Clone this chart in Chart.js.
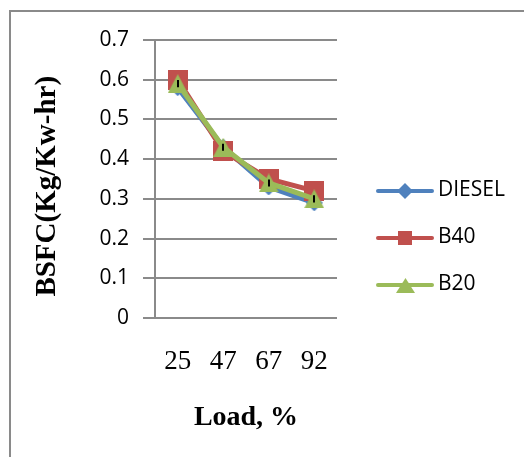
<!DOCTYPE html>
<html>
<head>
<meta charset="utf-8">
<script src="https://cdn.jsdelivr.net/npm/chart.js@4.4.1/dist/chart.umd.min.js"></script>
<style>
  html, body { margin: 0; padding: 0; background: #fff; }
  #wrap { position: relative; width: 524px; height: 457px; overflow: hidden; }
  canvas { display: block; }
</style>
</head>
<body>
<div id="wrap"><canvas id="c" width="524" height="457"></canvas></div>
<script>
// Load levels (%) on the category axis
const loads = ['25', '47', '67', '92'];
// Brake specific fuel consumption, Kg/Kw-hr
const diesel = [0.58, 0.43, 0.33, 0.29];
const b40 = [0.60, 0.42, 0.35, 0.32];
const b20 = [0.59, 0.43, 0.34, 0.30];
// Half-height of the small error bars on the B20 series
const b20Err = [0.009, 0.009, 0.009, 0.009];
// Value-axis tick labels
const yTickLabels = ['0', '0.1', '0.2', '0.3', '0.4', '0.5', '0.6', '0.7'];

const BLUE = '#4f81bd', RED = '#c0504d', GREEN = '#9bbb59';
const AXIS = '#8a8a8a';

// Solid marker shapes rendered once and reused as point styles
function marker(shape, w, h, color) {
  const c = document.createElement('canvas');
  c.width = w; c.height = h;
  const g = c.getContext('2d');
  g.fillStyle = color;
  g.beginPath();
  if (shape === 'square') {
    g.rect(0, 0, w, h);
  } else if (shape === 'triangle') {
    g.moveTo(w / 2, 0); g.lineTo(w, h); g.lineTo(0, h); g.closePath();
  } else {
    g.moveTo(w / 2, 0); g.lineTo(w, h / 2); g.lineTo(w / 2, h); g.lineTo(0, h / 2); g.closePath();
  }
  g.fill();
  return c;
}

const series = [
  { label: 'DIESEL', data: diesel, color: BLUE,  point: marker('diamond', 17, 17, BLUE),   key: marker('diamond', 16, 16, BLUE),  order: 3 },
  { label: 'B40',    data: b40,    color: RED,   point: marker('square', 20, 20, RED),     key: marker('square', 14, 14, RED),    order: 2 },
  { label: 'B20',    data: b20,    color: GREEN, point: marker('triangle', 20, 19, GREEN), key: marker('triangle', 19, 15, GREEN), order: 1 }
];

// Outer frame (left and top edges) behind the plot
const framePlugin = {
  id: 'frame',
  beforeDraw(chart) {
    const ctx = chart.ctx;
    ctx.save();
    ctx.fillStyle = '#fff';
    ctx.fillRect(0, 0, chart.width, chart.height);
    ctx.fillStyle = '#8a8a8a';
    ctx.fillRect(9, 10, chart.width, 2);
    ctx.fillRect(9, 10, 2, chart.height);
    ctx.restore();
  }
};

// Short black error bars on the B20 points
const errorBarPlugin = {
  id: 'errorBars',
  afterDatasetsDraw(chart) {
    const meta = chart.getDatasetMeta(2);
    const y = chart.scales.y;
    const ctx = chart.ctx;
    ctx.save();
    ctx.strokeStyle = '#000';
    ctx.lineWidth = 2;
    meta.data.forEach((pt, i) => {
      const v = b20[i];
      ctx.beginPath();
      ctx.moveTo(Math.round(pt.x), y.getPixelForValue(v + b20Err[i]));
      ctx.lineTo(Math.round(pt.x), y.getPixelForValue(v - b20Err[i]));
      ctx.stroke();
    });
    ctx.restore();
  }
};

// Legend on the right: line segment with marker, then the series name
const legendPlugin = {
  id: 'sideLegend',
  afterDraw(chart) {
    const ctx = chart.ctx;
    const rows = [191, 238, 285];
    ctx.save();
    series.forEach((s, i) => {
      const yy = rows[i];
      ctx.strokeStyle = s.color;
      ctx.lineWidth = 4;
      ctx.lineCap = 'round';
      ctx.beginPath();
      ctx.moveTo(378, yy);
      ctx.lineTo(432, yy);
      ctx.stroke();
      ctx.drawImage(s.key, Math.round(405 - s.key.width / 2), Math.round(yy - s.key.height / 2));
      ctx.fillStyle = '#000';
      ctx.font = '21px "Open Sans"';
      ctx.textBaseline = 'middle';
      ctx.textAlign = 'left';
      ctx.fillText(s.label, 438, yy - 1);
    });
    ctx.restore();
  }
};

new Chart(document.getElementById('c'), {
  type: 'line',
  data: {
    labels: loads,
    datasets: series.map(s => ({
      label: s.label,
      data: s.data,
      borderColor: s.color,
      backgroundColor: s.color,
      borderWidth: 5,
      pointStyle: s.point,
      pointRadius: 10,
      pointHoverRadius: 10,
      tension: 0,
      fill: false,
      order: s.order
    }))
  },
  options: {
    responsive: false,
    animation: false,
    devicePixelRatio: 1,
    layout: { padding: { left: 0, top: 40, right: 187, bottom: 0 } },
    plugins: {
      legend: { display: false },
      tooltip: { enabled: false }
    },
    scales: {
      x: {
        offset: true,
        grid: { display: false, drawTicks: false },
        border: { display: false },
        ticks: {
          padding: 28,
          color: '#000',
          font: { family: '"Liberation Serif", "Times New Roman", serif', size: 27 }
        },
        title: {
          display: true,
          text: 'Load, %',
          color: '#000',
          padding: { top: 0, bottom: 22 },
          font: { family: '"Liberation Serif", "Times New Roman", serif', size: 28, weight: 'bold' }
        },
        afterFit(scale) { scale.height = 139; }
      },
      y: {
        min: 0,
        max: 0.7,
        ticks: {
          stepSize: 0.1,
          padding: 14,
          color: '#000',
          font: { family: '"Open Sans", sans-serif', size: 21 },
          callback: (v, i) => yTickLabels[i]
        },
        grid: { color: AXIS, lineWidth: 2, tickLength: 12, drawTicks: true },
        border: { display: true, color: AXIS, width: 2 },
        title: {
          display: true,
          // trailing spaces nudge the rotated title slightly lower along the axis
          text: 'BSFC(Kg/Kw-hr)  ',
          color: '#000',
          padding: { top: 30, bottom: 0 },
          font: { family: '"Liberation Serif", "Times New Roman", serif', size: 29, weight: 'bold' }
        },
        afterFit(scale) { scale.width = 155; }
      }
    }
  },
  plugins: [framePlugin, errorBarPlugin, legendPlugin]
});
</script>
</body>
</html>
